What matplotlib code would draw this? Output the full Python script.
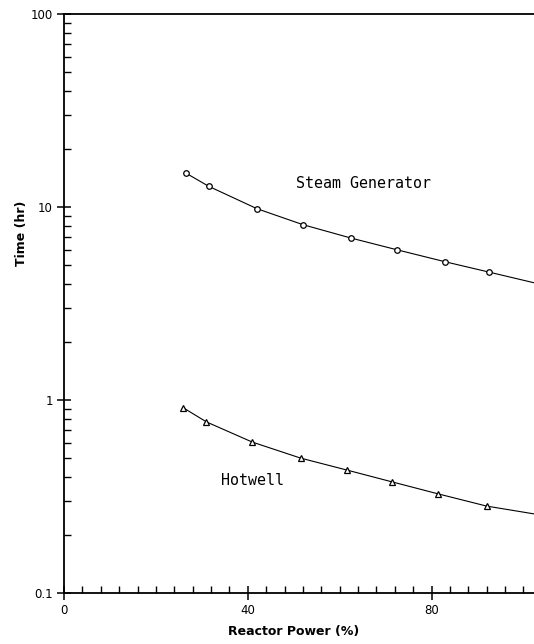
import matplotlib
matplotlib.use("Agg")
import matplotlib.pyplot as plt
from matplotlib.ticker import FixedLocator, LogLocator, NullFormatter, FixedFormatter

# Reactor power (%) at the plotted points
power_sg = [26.5, 31.5, 42, 52, 62.5, 72.5, 83, 92.5]
time_sg = [15.0, 12.8, 9.8, 8.1, 6.9, 6.0, 5.2, 4.6]

power_hw = [26, 31, 41, 51.5, 61.5, 71.5, 81.5, 92]
time_hw = [0.91, 0.77, 0.605, 0.50, 0.434, 0.376, 0.326, 0.282]

# Curve continuation to the right edge of the plot
tail_power = 102.3
tail_sg = 4.05
tail_hw = 0.257

x_major = [0, 40, 80]
x_labels = ["0", "40", "80"]
y_major = [0.1, 1, 10, 100]
y_labels = ["0.1", "1", "10", "100"]

fig = plt.figure(figsize=(5.34, 6.44), dpi=100)
ax = fig.add_axes([64 / 534, 1 - 593 / 644, 1 - 64 / 534, (593 - 14) / 644])

ax.set_yscale("log")
ax.set_xlim(0, tail_power)
ax.set_ylim(0.1, 100)

line_kw = dict(color="black", lw=0.8)
ax.plot(power_sg + [tail_power], time_sg + [tail_sg], **line_kw)
ax.plot(power_hw + [tail_power], time_hw + [tail_hw], **line_kw)
ax.plot(power_sg, time_sg, ls="none", marker="o", ms=4, mfc="white",
        mec="black", mew=0.9)
ax.plot(power_hw, time_hw, ls="none", marker="^", ms=4, mfc="white",
        mec="black", mew=0.9)

mono = "DejaVu Sans Mono"
ax.text(50.4, 13.3, "Steam Generator", family=mono, fontsize=10.8,
        va="center", ha="left")
ax.text(34.2, 0.385, "Hotwell", family=mono, fontsize=10.8,
        va="center", ha="left")

for side in ("left", "bottom", "top"):
    ax.spines[side].set_linewidth(1.3)
ax.spines["right"].set_visible(False)

ax.xaxis.set_major_locator(FixedLocator(x_major))
ax.xaxis.set_major_formatter(FixedFormatter(x_labels))
ax.xaxis.set_minor_locator(FixedLocator(range(0, 104, 4)))
ax.yaxis.set_major_locator(FixedLocator(y_major))
ax.yaxis.set_major_formatter(FixedFormatter(y_labels))
ax.yaxis.set_minor_locator(LogLocator(base=10, subs=range(2, 10)))
ax.yaxis.set_minor_formatter(NullFormatter())

ax.tick_params(which="major", direction="inout", length=10, width=1.1,
               labelsize=8.5, pad=3)
ax.tick_params(which="minor", direction="in", length=5, width=1.0)
ax.tick_params(axis="x", top=False)
ax.tick_params(axis="y", right=False)

fig.text(294 / 534, 1 - 632 / 644, "Reactor Power (%)", fontsize=9,
         fontweight="bold", ha="center", va="center")
fig.text(22 / 534, 1 - 233 / 644, "Time (hr)", fontsize=9,
         fontweight="bold", ha="center", va="center", rotation=90)

fig.savefig("out.png", dpi=100)
